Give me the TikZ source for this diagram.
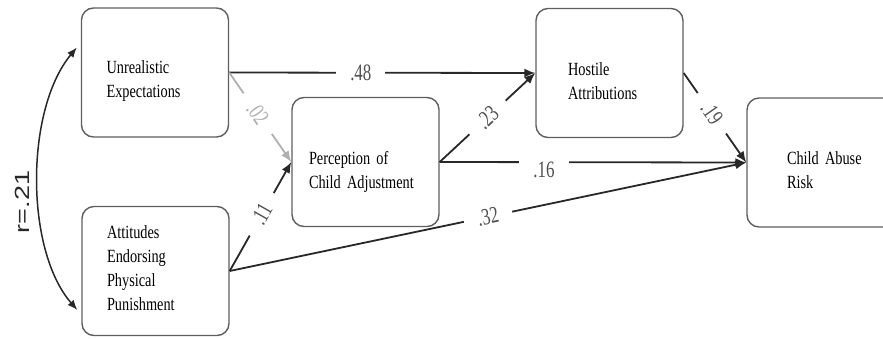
\documentclass[tikz,border=0pt]{standalone}
\usepackage{fontspec}
\usepackage{tikz}
\usetikzlibrary{arrows.meta}
\newfontfamily\boxfont[FakeStretch=0.77]{Liberation Serif}
\newfontfamily\coeffont[FakeStretch=0.72]{Liberation Serif}
\newfontfamily\corrfont{Liberation Sans}
\definecolor{boxgray}{RGB}{95,95,95}
\definecolor{pathgray}{RGB}{40,40,40}
\definecolor{coefgray}{RGB}{80,80,80}
\definecolor{weakgray}{RGB}{175,175,175}

\begin{document}
\begin{tikzpicture}[x=1pt, y=-1pt,
		varbox/.style={draw=boxgray, line width=1.4pt, rounded corners=12pt, fill=white, minimum width=147pt, minimum height=129pt, text height=29pt, align=left, font=\boxfont\fontsize{18.6}{24}\selectfont},
		effect/.style={draw=pathgray, line width=1.8pt, -{Latex[length=11pt,width=9pt]}},
		coef/.style={fill=white, inner xsep=14pt, inner ysep=2pt, text=coefgray, font=\coeffont\fontsize{23.5}{24}\selectfont}]
			\useasboundingbox (0,0) rectangle (883,338);
			\node[varbox, inner xsep=25pt, text width=97pt] (ue) at (155,72.5) {Unrealistic\\Expectations};
			\node[varbox, inner xsep=25pt, text width=97pt, text height=8pt] (aepp) at (155.5,271) {Attitudes\\Endorsing\\Physical\\Punishment};
			\node[varbox, inner xsep=17pt, text width=113pt, text height=32pt] (pca) at (365.5,162) {Perception of\\Child Adjustment};
			\node[varbox, inner xsep=32pt, text width=83pt] (ha) at (609.5,73) {Hostile\\Attributions};
			\node[varbox, inner xsep=40pt, text width=80pt] (car) at (827,162.5) {Child Abuse\\Risk};
			\draw[effect] (ue.east) -- node[coef, pos=.43] {.48} (ha.west);
			\draw[effect, draw=weakgray] (ue.east) -- node[coef, sloped, pos=.46, text=weakgray] {.02} (pca.west);
			\draw[effect] (aepp.east) -- node[coef, sloped, pos=.52] {.11} (pca.west);
			\draw[effect] (aepp.east) -- node[coef, sloped, pos=.5] {.32} (car.west);
			\draw[effect] (pca.east) -- node[coef, sloped, pos=.5] {.23} (ha.west);
			\draw[effect] (pca.east) -- node[coef, pos=.34, yshift=-8pt, inner ysep=4pt] {.16} (car.west);
			\draw[effect] (ha.east) -- node[coef, sloped, pos=.45] {.19} (car.west);
			\coordinate (rtop) at ([xshift=-4pt, yshift=25pt]ue.west);
			\coordinate (rbot) at ([xshift=-4pt, yshift=-39pt]aepp.west);
			\draw[line width=1.5pt, draw=pathgray, {Latex[length=10pt,width=8pt]}-{Latex[length=10pt,width=8pt]}] (rtop) .. controls (25,110) and (25,250) .. (rbot);
			\node[text=pathgray, font=\corrfont\fontsize{27}{27}\selectfont] (corr) at (22,202) {\rotatebox{90}{\scalebox{1}[0.76]{r=.21}}};
\end{tikzpicture}
\end{document}
